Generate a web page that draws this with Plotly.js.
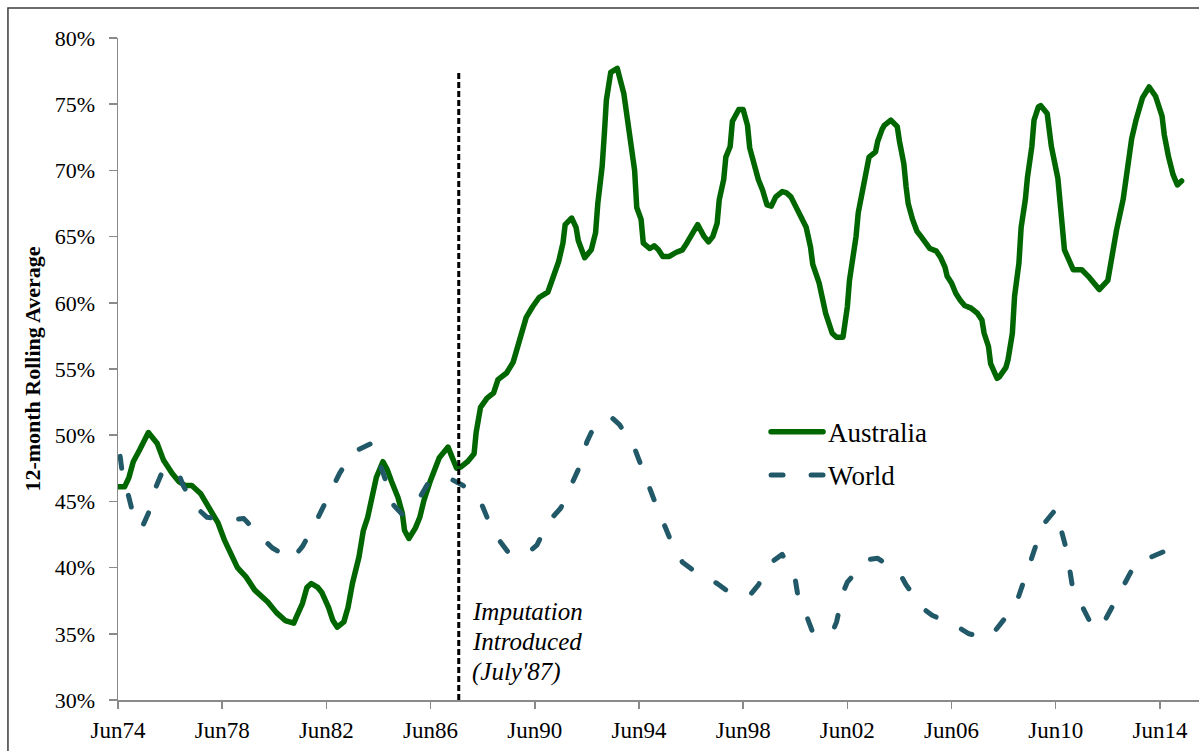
<!DOCTYPE html>
<html>
<head>
<meta charset="utf-8">
<script src="https://cdn.plot.ly/plotly-3.0.1.min.js"></script>
<style>
  html, body { margin: 0; padding: 0; background: #fff; }
  #chart { width: 1199px; height: 751px; }
  path.js-line { stroke-linecap: round; stroke-linejoin: round; }
</style>
</head>
<body>
<div id="chart"></div>
<script>
// ---------- data (12-month rolling average, %) ----------
const auDates = [
  '1974-06','1974-09','1974-11','1975-01','1975-04','1975-08','1975-12','1976-03','1976-07','1976-10',
  '1977-01','1977-04','1977-08','1977-11','1978-04','1978-07','1978-10','1979-01','1979-05','1979-09',
  '1980-03','1980-07','1980-11','1981-03','1981-04','1981-07','1981-09','1981-11','1982-02','1982-04',
  '1982-07','1982-09','1982-11','1983-02','1983-04','1983-06','1983-09','1983-11','1984-01','1984-03',
  '1984-05','1984-08','1984-10','1984-12','1985-03','1985-05','1985-06','1985-08','1985-11','1986-01',
  '1986-03','1986-06','1986-08','1986-10','1987-02','1987-04','1987-06','1987-08','1987-11','1988-02',
  '1988-03','1988-05','1988-08','1988-11','1989-01','1989-05','1989-08','1989-11','1990-02','1990-05',
  '1990-08','1990-12','1991-02','1991-05','1991-07','1991-08','1991-11','1992-01','1992-02','1992-05',
  '1992-08','1992-10','1992-11','1993-01','1993-02','1993-03','1993-05','1993-08','1993-11','1994-01',
  '1994-03','1994-04','1994-05','1994-07','1994-08','1994-11','1995-01','1995-03','1995-05','1995-08',
  '1995-11','1996-02','1996-04','1996-06','1996-09','1996-12','1997-02','1997-04','1997-06','1997-07',
  '1997-09','1997-10','1997-12','1998-01','1998-04','1998-06','1998-08','1998-09','1998-11','1999-01',
  '1999-03','1999-05','1999-07','1999-09','1999-12','2000-02','2000-04','2000-07','2000-09','2000-11',
  '2001-01','2001-02','2001-05','2001-07','2001-08','2001-11','2002-01','2002-04','2002-06','2002-07',
  '2002-09','2002-10','2002-11','2003-01','2003-03','2003-04','2003-07','2003-08','2003-10','2003-11',
  '2004-02','2004-05','2004-06','2004-08','2004-09','2004-10','2004-12','2005-02','2005-04','2005-06',
  '2005-08','2005-11','2006-01','2006-03','2006-04','2006-06','2006-08','2006-10','2006-12','2007-03',
  '2007-06','2007-08','2007-09','2007-11','2007-12','2008-03','2008-04','2008-07','2008-08','2008-10',
  '2008-11','2009-01','2009-02','2009-04','2009-05','2009-07','2009-08','2009-10','2009-11','2010-02',
  '2010-04','2010-07','2010-09','2010-10','2011-02','2011-06','2011-09','2011-12','2012-02','2012-06',
  '2012-08','2012-10','2013-01','2013-03','2013-05','2013-07','2013-10','2014-01','2014-04','2014-07',
  '2014-08','2014-10','2014-12','2015-02','2015-04'
];
const auValues = [
  46.1,46.1,46.8,48.0,48.9,50.2,49.4,48.1,47.1,46.5,
  46.2,46.2,45.6,44.7,43.4,42.1,41.0,40.0,39.3,38.3,
  37.4,36.6,36.0,35.8,36.2,37.3,38.5,38.8,38.5,38.1,
  37.0,36.0,35.5,35.9,37.0,38.8,40.8,42.8,43.8,45.3,
  46.8,48.0,47.4,46.5,45.3,44.1,42.8,42.2,43.0,43.8,
  45.1,46.6,47.5,48.3,49.1,48.4,47.5,47.6,48.0,48.6,
  50.2,52.1,52.8,53.2,54.2,54.7,55.5,57.2,58.9,59.7,
  60.4,60.8,61.7,63.1,64.5,65.9,66.4,65.7,64.7,63.4,
  64.0,65.3,67.5,70.3,72.8,75.3,77.4,77.7,75.8,73.6,
  71.5,70.0,67.2,66.3,64.5,64.1,64.3,64.0,63.5,63.5,
  63.8,64.0,64.5,65.0,65.9,65.0,64.6,65.0,66.0,67.8,
  69.3,71.0,71.8,73.7,74.6,74.6,73.4,71.7,70.3,69.3,
  68.5,67.4,67.3,68.0,68.4,68.3,68.0,67.0,66.5,65.7,
  64.2,62.9,61.5,60.2,59.2,57.7,57.4,57.4,59.7,61.7,
  63.7,65.0,66.8,68.5,70.5,71.0,71.4,72.2,73.1,73.4,
  73.8,73.3,72.2,70.5,68.8,67.5,66.3,65.4,65.0,64.5,
  64.1,63.9,63.4,62.7,62.0,61.5,60.7,60.2,59.8,59.6,
  59.2,58.7,57.7,56.7,55.4,54.3,54.4,55.1,55.7,57.7,
  60.5,63.0,65.7,67.8,69.5,71.8,73.8,74.8,74.9,74.3,
  71.8,69.4,65.5,64.0,62.5,62.5,62.0,61.3,61.0,61.7,
  63.7,65.5,67.8,70.0,72.4,73.8,75.5,76.3,75.6,74.1,
  72.7,71.0,69.7,68.9,69.2
];

const worldDates = [
  '1974-07','1974-08','1974-11','1975-01','1975-05','1975-08','1975-11','1976-02','1976-09','1976-12',
  '1977-05','1977-11','1978-09','1979-04','1979-12','1980-05','1981-02','1981-07','1982-01','1982-04',
  '1982-09','1982-12','1983-06','1984-01','1984-03','1984-08','1985-01','1985-05','1986-01','1986-05',
  '1987-02','1987-09','1988-05','1988-08','1989-01','1989-06','1990-02','1990-07','1990-12','1991-06',
  '1991-12','1992-02','1992-06','1992-08','1993-05','1993-09','1994-04','1994-06','1994-11','1995-01',
  '1995-06','1995-08','1996-02','1996-07','1997-06','1997-11','1998-09','1999-01','1999-07','1999-12',
  '2000-06','2000-07','2000-12','2001-02','2001-11','2002-01','2002-04','2002-06','2003-03','2003-08',
  '2004-06','2004-09','2005-05','2005-09','2006-09','2007-02','2007-10','2008-01','2008-10','2008-12',
  '2009-05','2009-06','2009-11','2009-12','2010-06','2010-07','2010-11','2011-02','2011-04','2011-11',
  '2012-01','2012-03','2012-10','2012-12','2013-07','2013-11','2014-12','2015-03'
];
const worldValues = [
  48.4,47.1,45.3,44.0,43.0,44.1,45.9,47.1,47.5,46.2,
  44.7,43.8,43.6,43.7,42.3,41.5,40.6,41.6,43.4,44.4,
  46.0,47.1,48.7,49.3,49.4,47.2,44.7,44.0,45.3,46.4,
  46.8,46.2,45.0,43.8,42.2,41.1,41.0,41.7,43.4,44.5,
  46.6,47.4,49.5,50.2,51.4,50.8,49.0,48.1,46.1,45.1,
  43.1,42.3,40.4,39.8,38.8,38.2,37.9,38.7,40.4,41.0,
  39.1,38.1,36.0,35.1,35.1,35.9,38.1,38.9,40.6,40.7,
  39.6,38.7,36.9,36.4,35.5,35.0,34.7,35.0,36.9,37.4,
  39.8,40.3,42.8,43.2,44.4,43.8,41.3,38.2,37.8,35.5,
  35.4,35.5,37.7,38.2,40.4,40.6,41.5,41.9
];

const tickYears = [1974,1978,1982,1986,1990,1994,1998,2002,2006,2010,2014];
const tickLabels = ['Jun74','Jun78','Jun82','Jun86','Jun90','Jun94','Jun98','Jun02','Jun06','Jun10','Jun14'];

const imputationDate = '1987-07-01';
const imputationTop = 77.4;
const noteLines = ['Imputation', 'Introduced', "(July'87)"];

// ---------- chart ----------
const SERIF = 'Liberation Serif, Times New Roman, serif';

const traces = [
  {
    name: 'Australia', x: auDates, y: auValues, type: 'scatter', mode: 'lines',
    line: { color: '#006600', width: 5.5 }, legendgroup: 'a'
  },
  {
    name: 'World', x: worldDates, y: worldValues, type: 'scatter', mode: 'lines',
    line: { color: '#215968', width: 5, dash: '12px,28px' }, legendgroup: 'b'
  }
];

const noteY = [36.65, 34.45, 32.1];

const layout = {
  width: 1199, height: 751,
  margin: { l: 118, r: 0, t: 38, b: 51 },
  paper_bgcolor: '#ffffff', plot_bgcolor: '#ffffff',
  font: { family: SERIF, color: '#000000' },
  showlegend: true,
  legend: {
    x: 0.5995, xanchor: 'left', y: 0.372, yanchor: 'middle',
    font: { family: SERIF, size: 27, color: '#000' },
    bgcolor: 'rgba(0,0,0,0)', borderwidth: 0,
    tracegroupgap: 5, itemwidth: 52
  },
  xaxis: {
    type: 'date',
    range: ['1974-06-01', '2015-12-01'],
    tickmode: 'array',
    tickvals: tickYears.map(y => y + '-06-01'),
    ticktext: tickLabels,
    showgrid: false, zeroline: false,
    showline: true, linecolor: '#8a8a8a', linewidth: 1.5,
    ticks: 'outside', ticklen: 7, tickwidth: 1.5, tickcolor: '#8a8a8a',
    tickfont: { family: SERIF, size: 23, color: '#000' },
    ticklabelstandoff: 2,
    fixedrange: true
  },
  yaxis: {
    range: [30, 80], tick0: 30, dtick: 5, ticksuffix: '%',
    showgrid: false, zeroline: false,
    showline: true, linecolor: '#8a8a8a', linewidth: 1.5,
    ticks: 'outside', ticklen: 8, tickwidth: 1.5, tickcolor: '#8a8a8a',
    tickfont: { family: SERIF, size: 22, color: '#000' },
    ticklabelstandoff: 9,
    title: { text: '<b>12-month Rolling Average</b>', font: { family: SERIF, size: 22, color: '#000' }, standoff: 8 },
    fixedrange: true
  },
  shapes: [
    {
      type: 'rect', xref: 'paper', yref: 'paper',
      x0: -0.1018, x1: 1.05, y0: -0.2, y1: 1.0453,
      line: { color: '#3c3c3c', width: 1.5 }, fillcolor: 'rgba(0,0,0,0)', layer: 'below'
    },
    {
      type: 'line', xref: 'x', yref: 'y',
      x0: imputationDate, x1: imputationDate, y0: 30, y1: imputationTop,
      line: { color: '#000000', width: 3, dash: '6px,3px' }
    }
  ],
  annotations: noteLines.map((t, i) => ({
    xref: 'x', yref: 'y', x: imputationDate, y: noteY[i],
    xanchor: 'left', yanchor: 'middle', xshift: 11,
    text: '<i>' + t + '</i>', showarrow: false,
    font: { family: SERIF, size: 25, color: '#000' }
  }))
};

Plotly.newPlot('chart', traces, layout, { displayModeBar: false, staticPlot: true });
</script>
</body>
</html>
